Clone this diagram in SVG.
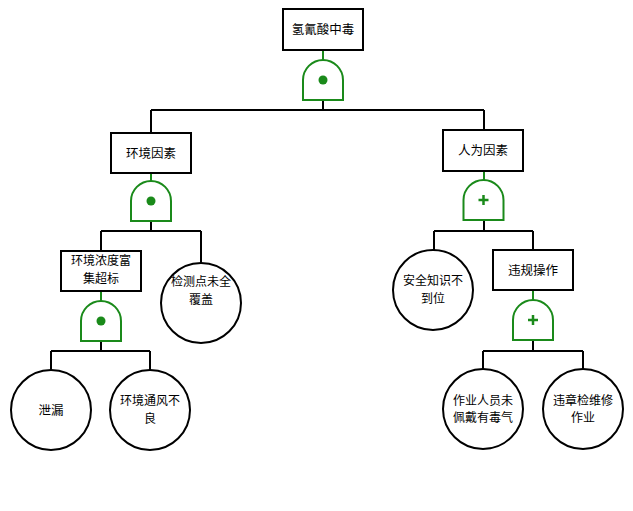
<svg xmlns="http://www.w3.org/2000/svg" width="633" height="511" viewBox="0 0 633 511">
<style>
.box{fill:#fff;stroke:#000;stroke-width:2}
.circ{fill:#fff;stroke:#000;stroke-width:2}
.gate{fill:#fff;stroke:#1a8a1a;stroke-width:2}
.sym{fill:#1a8a1a}
.plus{stroke:#1a8a1a;stroke-width:2.5;fill:none}
.ln{stroke:#000;stroke-width:2;fill:none}
.gl{stroke:#1a8a1a;stroke-width:2;fill:none}
text{font-family:"Noto Sans CJK SC","Noto Sans",sans-serif;font-size:12.5px;fill:#000;text-anchor:middle}
text.two{font-size:12px}
</style>
<defs>
<path id="gateShape" d="M-20,20 L-20,0 A20,20 0 0 1 20,0 L20,20 Z"/>
</defs>
<rect width="633" height="511" fill="#fff"/>
<g id="connectors">
<path class="gl" d="M323,50 V61"/>
<path class="ln" d="M323,100 V110 M151,110 H484 M151,110 V133 M484,110 V133"/>
<path class="gl" d="M151,173 V181 M484,171 V180"/>
<path class="ln" d="M151,221 V231 M101,231 H201 M101,231 V251 M201,231 V263"/>
<path class="ln" d="M484,220 V231 M434,231 H533 M434,231 V250 M533,231 V250"/>
<path class="gl" d="M101,291 V301 M533,290 V300"/>
<path class="ln" d="M101,341 V351 M51,351 H150 M51,351 V370 M150,351 V370"/>
<path class="ln" d="M533,340 V351 M483,351 H583 M483,351 V369 M583,351 V369"/>
</g>
<g id="top"><rect class="box" x="283" y="9" width="80" height="41"/><text x="323" y="34">氢氰酸中毒</text></g>
<g id="gate-top"><use href="#gateShape" class="gate" transform="translate(323,80)"/><circle class="sym" cx="323" cy="80" r="4.5"/></g>
<g id="env"><rect class="box" x="111" y="133" width="80" height="40"/><text x="151" y="158">环境因素</text></g>
<g id="human"><rect class="box" x="443" y="130" width="80" height="41"/><text x="483" y="155">人为因素</text></g>
<g id="gate-env"><use href="#gateShape" class="gate" transform="translate(151,201)"/><circle class="sym" cx="151" cy="201" r="4.5"/></g>
<g id="gate-human"><use href="#gateShape" class="gate" transform="translate(483.5,200)"/><path class="plus" d="M478.5,200 H488.5 M483.5,195 V205"/></g>
<g id="conc"><rect class="box" x="61" y="251" width="80" height="40"/><text class="two" x="101" y="265"><tspan x="101">环境浓度富</tspan><tspan x="101" dy="17.5">集超标</tspan></text></g>
<g id="detect"><circle class="circ" cx="201" cy="303" r="40"/><text class="two" x="201" y="286"><tspan x="201">检测点未全</tspan><tspan x="201" dy="17.5">覆盖</tspan></text></g>
<g id="safety"><circle class="circ" cx="433" cy="290" r="40"/><text class="two" x="433" y="285"><tspan x="433">安全知识不</tspan><tspan x="433" dy="17.5">到位</tspan></text></g>
<g id="violate"><rect class="box" x="493" y="250" width="80" height="40"/><text x="533" y="275">违规操作</text></g>
<g id="gate-conc"><use href="#gateShape" class="gate" transform="translate(101,321)"/><circle class="sym" cx="101" cy="321" r="4.5"/></g>
<g id="gate-violate"><use href="#gateShape" class="gate" transform="translate(533,320)"/><path class="plus" d="M528,320 H538 M533,315 V325"/></g>
<g id="leak"><circle class="circ" cx="51" cy="410" r="40"/><text x="51" y="415">泄漏</text></g>
<g id="vent"><circle class="circ" cx="150" cy="410" r="40"/><text class="two" x="150" y="405"><tspan x="150">环境通风不</tspan><tspan x="150" dy="17.5">良</tspan></text></g>
<g id="mask"><circle class="circ" cx="483" cy="409" r="40"/><text class="two" x="483" y="404.5"><tspan x="483">作业人员未</tspan><tspan x="483" dy="17.5">佩戴有毒气</tspan></text></g>
<g id="maint"><circle class="circ" cx="583" cy="409" r="40"/><text class="two" x="583" y="404.5"><tspan x="583">违章检维修</tspan><tspan x="583" dy="17.5">作业</tspan></text></g>
</svg>
